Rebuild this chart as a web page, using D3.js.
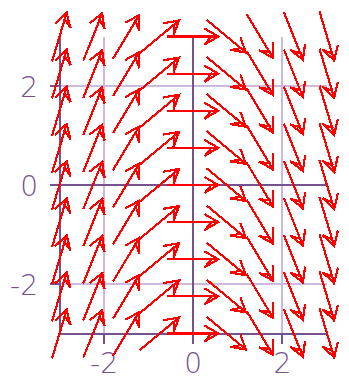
<!DOCTYPE html>
<html>
<head>
<meta charset="utf-8">
<script src="https://cdn.jsdelivr.net/npm/d3@7"></script>
<style>
  html, body { margin: 0; padding: 0; background: #ffffff; }
  svg { display: block; }
</style>
</head>
<body>
<svg id="chart" width="349" height="379"></svg>
<script>
// Direction field samples (grid of arrows)
const gridX = [-3, -2.25, -1.5, -0.75, 0, 0.75, 1.5, 2.25, 3];
const gridY = [-3, -2.25, -1.5, -0.75, 0, 0.75, 1.5, 2.25, 3];
// slope of the arrows in each column (same in every row)
const columnSlopes = [3, 2.25, 1.5, 0.75, 0, -0.75, -1.5, -2.25, -3];
// axis ticks
const xTicks = [-2, 0, 2];
const yTicks = [-2, 0, 2];
const xTickLabels = ["-2", "0", "2"];
const yTickLabels = ["-2", "0", "2"];

const svg = d3.select("#chart");
const x = d3.scaleLinear().domain([-3, 3]).range([59.5, 327]);
const y = d3.scaleLinear().domain([-3, 3]).range([333.5, 36.5]);

const dark = "#74528f";
const light = "#cdb9dc";

// light grid lines at ±2
const gl = svg.append("g").attr("stroke", light).attr("stroke-width", 2).attr("shape-rendering", "crispEdges");
xTicks.filter(v => v !== 0).forEach(v => {
  gl.append("line").attr("x1", x(v)).attr("x2", x(v)).attr("y1", y(3)).attr("y2", y(-3));
});
yTicks.filter(v => v !== 0).forEach(v => {
  gl.append("line").attr("y1", y(v)).attr("y2", y(v)).attr("x1", x(-3)).attr("x2", x(3));
});

// dark axes: frame left/bottom, zero lines, ticks
const ax = svg.append("g").attr("stroke", dark).attr("stroke-width", 2).attr("shape-rendering", "crispEdges");
ax.append("line").attr("x1", x(-3)).attr("x2", x(-3)).attr("y1", y(3)).attr("y2", y(-3));
ax.append("line").attr("y1", y(-3)).attr("y2", y(-3)).attr("x1", x(-3)).attr("x2", x(3));
ax.append("line").attr("x1", x(0)).attr("x2", x(0)).attr("y1", y(3)).attr("y2", y(-3));
ax.append("line").attr("y1", y(0)).attr("y2", y(0)).attr("x1", x(-3)).attr("x2", x(3));
xTicks.forEach(v => {
  ax.append("line").attr("x1", x(v)).attr("x2", x(v)).attr("y1", y(-3)).attr("y2", y(-3) + 10);
});
yTicks.forEach(v => {
  ax.append("line").attr("y1", y(v)).attr("y2", y(v)).attr("x1", x(-3) - 10).attr("x2", x(-3));
});

// tick labels
const lab = svg.append("g").attr("fill", dark)
  .attr("font-family", "'DejaVu Sans', sans-serif").attr("font-weight", 200).attr("font-size", 28);
xTicks.forEach((v, i) => {
  lab.append("text").attr("x", x(v)).attr("y", 373).attr("text-anchor", "middle").text(xTickLabels[i]);
});
yTicks.forEach((v, i) => {
  lab.append("text").attr("x", 38).attr("y", y(v) + 10.5).attr("text-anchor", "end").text(yTickLabels[i]);
});

// arrows
const L = 50, head = 15, ang = 30 * Math.PI / 180;
const ar = svg.append("g").attr("stroke", "#ff0000").attr("stroke-width", 2.2)
  .attr("fill", "none").attr("shape-rendering", "crispEdges")
  .attr("stroke-linecap", "square");
gridX.forEach((gx, i) => {
  const s = columnSlopes[i];
  gridY.forEach(gy => {
    const cx = x(gx), cy = y(gy);
    let dx = x(gx + 1) - x(gx), dy = y(gy + s) - y(gy);
    const n = Math.hypot(dx, dy); dx /= n; dy /= n;
    const x0 = cx - dx * L / 2, y0 = cy - dy * L / 2;
    const x1 = cx + dx * L / 2, y1 = cy + dy * L / 2;
    const th = Math.atan2(dy, dx);
    const b1x = x1 - head * Math.cos(th - ang), b1y = y1 - head * Math.sin(th - ang);
    const b2x = x1 - head * Math.cos(th + ang), b2y = y1 - head * Math.sin(th + ang);
    const ix = x1 - dx * 7, iy = y1 - dy * 7;
    const p = d3.path();
    p.moveTo(x0, y0); p.lineTo(x1, y1);
    p.moveTo(b1x, b1y); p.lineTo(x1, y1); p.lineTo(b2x, b2y);
    p.moveTo(b1x, b1y); p.lineTo(ix, iy);
    ar.append("path").attr("d", p.toString());
  });
});
</script>
</body>
</html>
